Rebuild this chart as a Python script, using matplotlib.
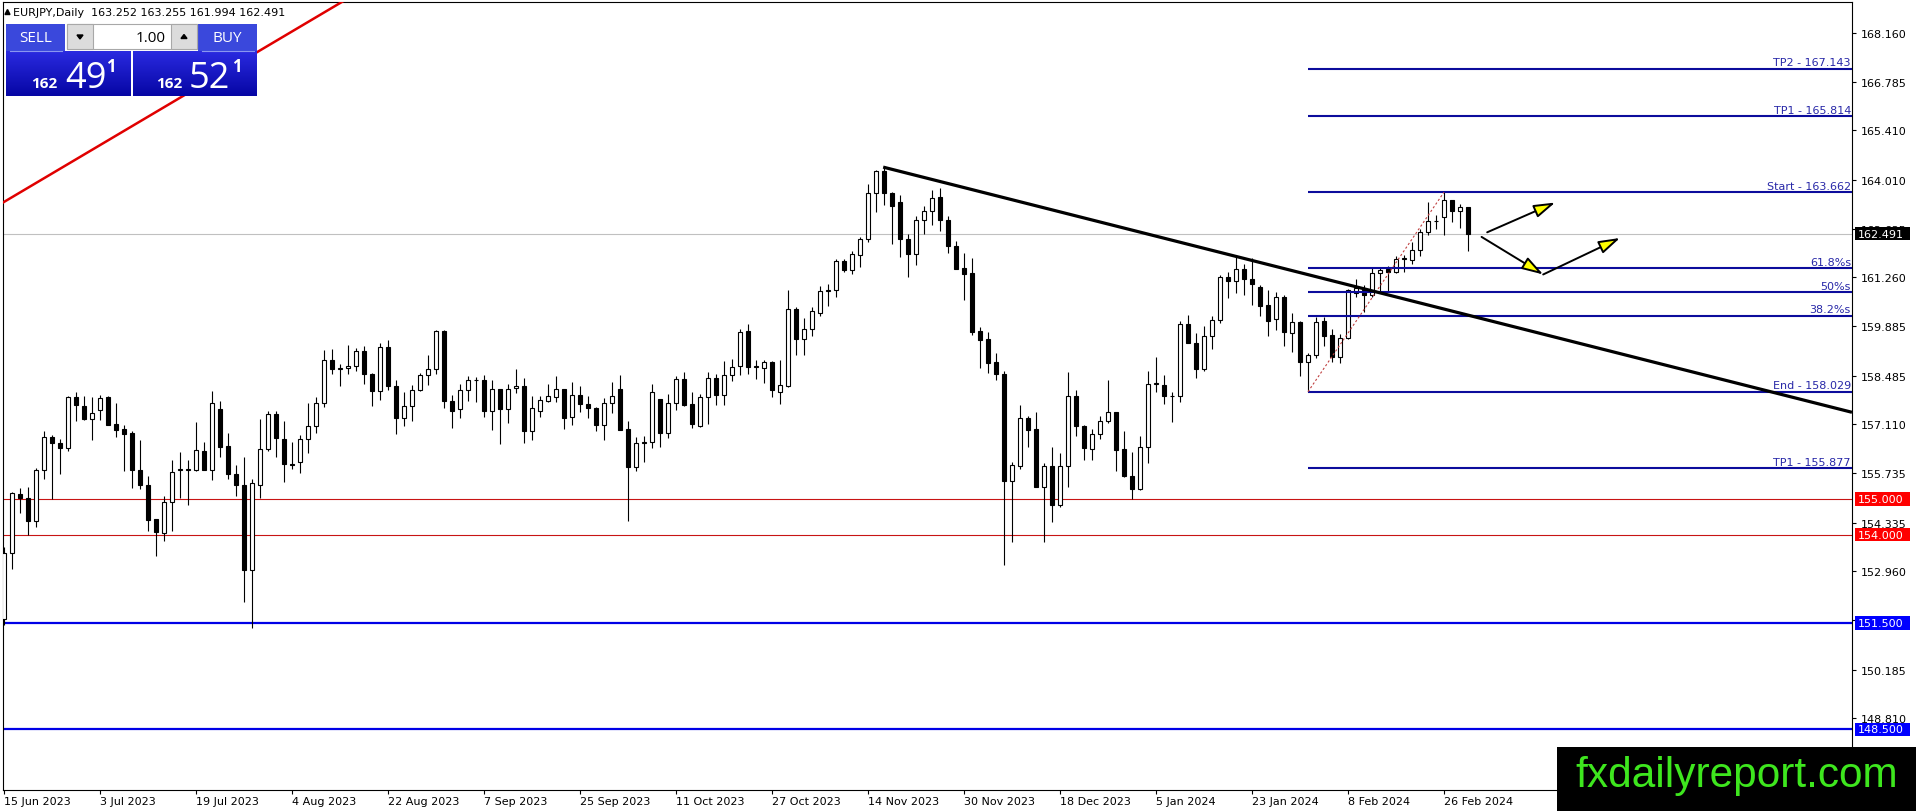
import matplotlib
matplotlib.use('Agg')
import matplotlib.pyplot as plt
import numpy as np
import matplotlib.transforms as mtrans
from matplotlib.patches import Rectangle, FancyArrowPatch, Polygon, ArrowStyle
from matplotlib.colors import LinearSegmentedColormap

# ---------------- data (EURJPY daily candles, bar index 0 = 15 Jun 2023) ----------------
opens = [151.63, 153.49, 155.14, 155.03, 154.37, 155.83, 156.74, 156.57, 156.45, 157.89,
         157.64, 157.26, 157.51, 157.87, 157.12, 156.97, 156.87, 155.83, 155.40, 154.44,
         154.05, 154.91, 155.82, 155.83, 155.82, 156.37, 155.82, 157.55, 156.49, 155.72,
         155.40, 152.99, 155.39, 156.41, 157.40, 156.70, 155.98, 156.05, 156.70, 157.05,
         157.70, 158.93, 158.68, 158.70, 158.76, 159.19, 158.53, 158.04, 159.30, 158.19,
         157.30, 157.62, 158.08, 158.50, 158.68, 159.74, 157.76, 157.53, 158.08, 158.36,
         158.36, 157.50, 158.10, 157.53, 158.14, 158.20, 156.91, 157.50, 157.76, 157.89,
         158.11, 157.31, 157.94, 157.69, 157.58, 157.10, 157.70, 158.11, 156.97, 155.90,
         156.59, 156.61, 157.83, 156.87, 157.70, 158.38, 157.69, 157.06, 157.87, 158.43,
         157.93, 158.50, 158.77, 159.75, 158.73, 158.71, 158.86, 158.03, 158.20, 160.37,
         159.51, 159.80, 160.26, 160.86, 160.91, 161.71, 161.48, 161.90, 162.34, 163.65,
         164.26, 163.63, 163.39, 162.34, 161.93, 162.88, 163.13, 163.54, 162.89, 162.15,
         161.51, 161.38, 159.75, 159.51, 158.86, 158.54, 155.51, 155.94, 157.29, 156.97,
         155.34, 155.93, 154.83, 155.93, 157.91, 157.06, 156.41, 156.83, 157.21, 157.46,
         156.41, 155.66, 155.28, 156.46, 158.25, 158.23, 157.91, 157.91, 159.94, 159.40,
         158.68, 159.61, 160.06, 161.26, 161.16, 161.49, 161.21, 161.00, 160.48, 160.07,
         160.70, 159.68, 159.99, 158.86, 159.08, 160.02, 159.63, 159.00, 159.54, 160.83,
         160.89, 160.77, 161.38, 161.50, 161.42, 161.78, 161.76, 162.02, 162.54, 162.85,
         162.96, 163.45, 163.12, 163.252]
highs = [153.66, 155.20, 155.30, 155.35, 155.88, 156.91, 156.80, 156.69, 157.91, 158.01,
         157.92, 157.87, 157.95, 157.90, 157.72, 157.09, 156.91, 156.66, 155.64, 154.44,
         155.10, 156.09, 156.32, 156.11, 157.17, 156.61, 158.04, 157.78, 156.87, 155.96,
         156.20, 155.57, 157.25, 157.48, 157.48, 157.20, 156.60, 156.82, 157.71, 157.89,
         159.20, 159.23, 158.82, 159.34, 159.27, 159.31, 158.55, 159.40, 159.49, 158.36,
         158.02, 158.23, 158.55, 159.06, 159.77, 159.77, 157.93, 158.25, 158.48, 158.46,
         158.50, 158.36, 158.10, 158.25, 158.66, 158.42, 157.90, 157.92, 158.26, 158.47,
         158.11, 158.30, 158.18, 157.92, 157.61, 157.86, 158.31, 158.49, 157.20, 156.74,
         156.77, 158.26, 157.83, 157.98, 158.47, 158.60, 158.03, 157.97, 158.60, 158.54,
         158.89, 158.95, 159.80, 159.94, 158.94, 158.92, 158.89, 158.92, 160.90, 160.42,
         160.11, 160.42, 161.01, 161.06, 161.77, 161.78, 161.99, 162.41, 163.89, 164.30,
         164.39, 163.66, 163.59, 162.47, 163.00, 163.26, 163.72, 163.78, 162.99, 162.28,
         161.96, 161.80, 159.85, 159.72, 159.11, 158.61, 156.06, 157.66, 157.34, 157.47,
         156.03, 156.47, 156.30, 158.58, 158.09, 157.09, 156.97, 157.34, 158.37, 157.46,
         156.92, 156.32, 156.77, 158.61, 159.01, 158.49, 158.01, 160.04, 160.21, 159.69,
         159.88, 160.18, 161.32, 161.40, 161.90, 161.63, 161.80, 161.05, 160.89, 160.84,
         160.75, 160.26, 160.02, 159.12, 160.13, 160.13, 159.80, 159.66, 160.94, 161.20,
         161.03, 161.55, 161.55, 161.58, 161.86, 161.88, 162.26, 162.63, 163.39, 163.01,
         163.66, 163.45, 163.34, 163.255]
lows = [151.45, 153.02, 154.61, 154.00, 154.21, 155.56, 155.00, 155.70, 156.35, 157.20,
        157.23, 156.68, 157.23, 157.10, 156.75, 155.78, 155.32, 155.28, 154.10, 153.39,
        153.83, 154.10, 155.04, 154.83, 155.80, 155.82, 155.53, 156.19, 155.56, 155.10,
        152.10, 151.35, 155.03, 156.35, 156.20, 155.47, 155.84, 155.75, 156.30, 156.87,
        157.60, 158.54, 158.18, 158.52, 158.61, 158.24, 157.64, 157.79, 158.07, 156.85,
        157.07, 157.21, 158.04, 158.21, 158.52, 157.58, 157.01, 157.30, 157.77, 157.74,
        157.32, 156.95, 156.56, 157.15, 157.99, 156.59, 156.68, 157.33, 157.73, 157.73,
        156.99, 157.10, 157.45, 157.30, 156.92, 156.68, 157.42, 156.96, 154.39, 155.78,
        156.05, 156.45, 156.48, 156.72, 157.51, 157.63, 157.02, 157.03, 157.13, 157.67,
        157.65, 158.34, 158.51, 158.54, 158.39, 158.28, 157.88, 157.69, 158.16, 159.08,
        159.08, 159.59, 160.18, 160.45, 160.70, 161.40, 161.35, 161.56, 162.26, 163.11,
        163.30, 162.20, 161.83, 161.28, 161.61, 162.47, 162.75, 162.58, 161.94, 161.50,
        160.61, 159.64, 158.70, 158.56, 158.37, 153.15, 153.80, 155.85, 156.47, 155.34,
        153.80, 154.34, 154.77, 155.34, 156.77, 156.10, 156.10, 156.71, 157.15, 155.80,
        155.61, 155.01, 155.26, 156.03, 158.02, 157.68, 157.18, 157.73, 159.40, 158.42,
        158.61, 159.25, 159.97, 160.69, 160.83, 160.75, 160.47, 160.18, 159.61, 159.76,
        159.33, 159.14, 158.48, 158.03, 158.97, 159.31, 158.86, 158.83, 159.52, 160.70,
        160.27, 160.70, 160.84, 160.84, 161.39, 161.41, 161.64, 161.86, 162.46, 162.63,
        162.46, 162.82, 162.66, 161.994]
closes = [153.49, 155.16, 155.03, 154.37, 155.83, 156.74, 156.57, 156.45, 157.89, 157.66,
          157.26, 157.43, 157.86, 157.10, 156.96, 156.85, 155.82, 155.39, 154.42, 154.08,
          154.92, 155.77, 155.84, 155.84, 156.40, 155.82, 157.72, 156.48, 155.70, 155.39,
          152.99, 155.46, 156.41, 157.40, 156.72, 155.98, 155.97, 156.70, 157.05, 157.70,
          158.93, 158.67, 158.70, 158.76, 159.19, 158.52, 158.04, 159.30, 158.19, 157.30,
          157.62, 158.08, 158.50, 158.68, 159.74, 157.76, 157.50, 158.08, 158.36, 158.37,
          157.50, 158.12, 157.53, 158.12, 158.20, 156.93, 157.57, 157.80, 157.90, 158.11,
          157.30, 157.94, 157.69, 157.56, 157.10, 157.70, 157.91, 156.96, 155.90, 156.59,
          156.61, 158.03, 156.87, 157.70, 158.38, 157.67, 157.13, 157.87, 158.43, 157.93,
          158.50, 158.72, 159.72, 158.73, 158.75, 158.86, 158.09, 158.23, 160.37, 159.51,
          159.80, 160.31, 160.86, 160.91, 161.71, 161.48, 161.91, 162.34, 163.63, 164.26,
          163.63, 163.28, 162.34, 161.91, 162.88, 163.13, 163.51, 162.88, 162.13, 161.50,
          161.36, 159.73, 159.50, 158.84, 158.53, 155.51, 155.96, 157.29, 156.96, 155.34,
          155.93, 154.82, 155.93, 157.90, 157.06, 156.43, 156.83, 157.21, 157.46, 156.39,
          155.65, 155.28, 156.46, 158.26, 158.27, 157.91, 157.92, 159.94, 159.40, 158.66,
          159.61, 160.06, 161.26, 161.15, 161.49, 161.21, 161.06, 160.46, 160.04, 160.70,
          159.71, 159.99, 158.86, 159.08, 159.99, 159.61, 159.00, 159.54, 160.89, 160.95,
          160.77, 161.38, 161.47, 161.42, 161.78, 161.79, 162.02, 162.54, 162.85, 162.86,
          163.45, 163.12, 163.25, 162.491]

date_labels = ['15 Jun 2023', '3 Jul 2023', '19 Jul 2023', '4 Aug 2023', '22 Aug 2023',
               '7 Sep 2023', '25 Sep 2023', '11 Oct 2023', '27 Oct 2023', '14 Nov 2023',
               '30 Nov 2023', '18 Dec 2023', '5 Jan 2024', '23 Jan 2024', '8 Feb 2024',
               '26 Feb 2024']
date_label_bars = [0, 12, 24, 36, 48, 60, 72, 84, 96, 108, 120, 132, 144, 156, 168, 180]

price_ticks = [168.160, 166.785, 165.410, 164.010, 162.635, 161.260, 159.885, 158.485,
               157.110, 155.735, 154.335, 152.960, 151.585, 150.185, 148.810]

current_price = 162.491
red_levels = [155.000, 154.000]
blue_levels = [151.500, 148.500]

fib_names = ['TP2 - 167.143', 'TP1 - 165.814', 'Start - 163.662', '61.8%s', '50%s',
             '38.2%s', 'End - 158.029', 'TP1 - 155.877']
fib_values = [167.143, 165.814, 163.662, 161.510, 160.846, 160.181, 158.029, 155.877]
fib_start_bar = 163
fib_anchor_x = [163, 180]
fib_anchor_y = [158.029, 163.662]

trend_x = [109.9, 231.0]
trend_y = [164.37, 157.45]
red_trend_x = [-0.2, 43.5]
red_trend_y = [163.36, 169.20]

arrows = [((185.4, 162.53), (193.9, 163.37)),
          ((184.7, 162.40), (192.4, 161.34)),
          ((192.4, 161.34), (202.0, 162.37))]

header = 'EURJPY,Daily  163.252 163.255 161.994 162.491'

# ---------------- figure ----------------
W, H = 1916, 812
fig = plt.figure(figsize=(W / 100, H / 100), dpi=100)
fig.patch.set_facecolor('white')
ax = fig.add_axes([2.7 / W, (H - 791) / H, (1852.3 - 2.7) / W, (791 - 3) / H])
ax.set_xlim(-0.16, 231.04)
ax.set_ylim(146.79, 169.03)
for s in ax.spines.values():
    s.set_linewidth(0.8)
    s.set_color('black')

o = np.array(opens); h = np.array(highs); l = np.array(lows); c = np.array(closes)
x = np.arange(len(o))
up = c >= o
bot = np.minimum(o, c)
ht = np.maximum(np.abs(c - o), 0.012)

# horizontal levels
ax.axhline(current_price, color='#c0c0c0', lw=0.8, zorder=1)
for r in red_levels:
    ax.axhline(r, color='#c81414', lw=0.8, zorder=2)
for b in blue_levels:
    ax.axhline(b, color='#0000e6', lw=1.6, zorder=2)

# candles
ax.vlines(x, l, h, color='black', linewidth=0.8, zorder=3)
ax.bar(x[up], ht[up], bottom=bot[up], width=0.5, facecolor='white', edgecolor='black',
       linewidth=0.8, zorder=4)
ax.bar(x[~up], ht[~up], bottom=bot[~up], width=0.5, facecolor='black', edgecolor='black',
       linewidth=0.8, zorder=4)

# fibonacci / targets
ax.hlines(fib_values, fib_start_bar, 231.04, color='#0c0c9c', lw=1.5, zorder=5)
for name, v in zip(fib_names, fib_values):
    ax.annotate(name, xy=(1, v), xycoords=('axes fraction', 'data'), xytext=(-1, 1),
                textcoords='offset points', ha='right', va='bottom', fontsize=8,
                color='#2828a8', zorder=6)
ax.plot(fib_anchor_x, fib_anchor_y, color='#c04040', lw=0.8, ls=(0, (2, 2)), zorder=5)

# trendlines
ax.plot(trend_x, trend_y, color='black', lw=2.3, zorder=6, solid_capstyle='butt')
ax.plot(red_trend_x, red_trend_y, color='#e00000', lw=1.8, zorder=6)

# arrows
for (a, b) in arrows:
    arr = FancyArrowPatch(a, b, arrowstyle=ArrowStyle('-|>', head_length=1.3, head_width=0.4),
                          mutation_scale=10, facecolor='#ffff00', edgecolor='black',
                          lw=1.4, shrinkA=0, shrinkB=0, zorder=7)
    ax.add_patch(arr)

# axes ticks
ax.yaxis.tick_right()
ax.set_yticks(price_ticks)
ax.set_yticklabels([f'{v:.3f}' for v in price_ticks])
ax.tick_params(axis='y', direction='out', length=3, width=0.8, pad=3, labelsize=8)
ax.set_xticks(date_label_bars)
ax.set_xticklabels(date_labels, ha='left')
ax.tick_params(axis='x', direction='out', length=3, width=0.8, pad=1, labelsize=8)

# price label boxes on the axis
trans = mtrans.blended_transform_factory(fig.transFigure, ax.transData)
box_h = 13.5 / 35.43
boxes = [(current_price, 'black')] + [(r, '#ff0000') for r in red_levels] + \
        [(b, '#0000ff') for b in blue_levels]
for v, col in boxes:
    ax.add_patch(Rectangle((1855 / W, v - box_h / 2), 55 / W, box_h, transform=trans,
                           facecolor=col, edgecolor='none', clip_on=False, zorder=10))
    ax.text(1858 / W, v, f'{v:.3f}', transform=trans, color='white', fontsize=8,
            va='center', ha='left', clip_on=False, zorder=11)

# ---------------- overlay (pixel coordinates) ----------------
ov = fig.add_axes([0, 0, 1, 1], zorder=20)
ov.set_xlim(0, W)
ov.set_ylim(H, 0)
ov.axis('off')
ov.patch.set_alpha(0)

ov.add_patch(Polygon([[5, 15.5], [10, 15.5], [7.5, 10.5]], closed=True, color='black'))
ov.text(13, 13, header, fontsize=8, va='center', ha='left', color='black')

btn_col = '#3a48dc'
ui_font = 'Open Sans'
for bx, label in [(6, 'SELL'), (198, 'BUY')]:
    ov.add_patch(Rectangle((bx, 25), 59, 27, facecolor=btn_col, edgecolor='none'))
    ov.plot([bx + 4, bx + 56], [51.5, 51.5], color='#8a96f0', lw=0.8)
    ov.text(bx + 29.5, 39, label, color='white', fontsize=11, ha='center', va='center',
            family=ui_font)

ov.add_patch(Rectangle((67, 25), 130, 25, facecolor='white', edgecolor='#a8a8a8', lw=0.8))
for sx in (67, 171):
    ov.add_patch(Rectangle((sx, 25), 26, 25, facecolor='#dcdcdc', edgecolor='#a8a8a8', lw=0.8))
ov.add_patch(Polygon([[77, 36], [83, 36], [80, 40]], closed=True, color='black'))
ov.add_patch(Polygon([[181, 39.5], [187, 39.5], [184, 35.5]], closed=True, color='black'))
ov.text(166, 38, '1.00', fontsize=11, ha='right', va='center', family=ui_font, color='black')

cmap = LinearSegmentedColormap.from_list('mt', ['#2a2ae0', '#0606a4'])
grad = np.linspace(0, 1, 64).reshape(-1, 1)
for (x0, x1, big, bigx, smallx, supx) in [(6, 131, '49', 65, 31, 106), (133, 257, '52', 189, 156, 232)]:
    ov.imshow(grad, extent=(x0, x1, 97, 52), cmap=cmap, aspect='auto', zorder=1)
    ov.text(smallx, 88, '162', color='white', fontsize=11, fontweight='bold', ha='left',
            va='baseline', family=ui_font, zorder=2)
    ov.text(bigx, 87.5, big, color='white', fontsize=26, ha='left', va='baseline',
            family=ui_font, zorder=2)
    ov.text(supx, 72, '1', color='white', fontsize=12, fontweight='bold', ha='left',
            va='baseline', family=ui_font, zorder=2)
ov.set_xlim(0, W)
ov.set_ylim(H, 0)

# watermark
ov.add_patch(Rectangle((1557, 748), W - 1557, H - 748, facecolor='black', edgecolor='none',
                       zorder=3))
ov.text(1575, 787, 'fxdailyreport.com', color='#3ee61e', fontsize=30.5,
        family='Liberation Sans', ha='left', va='baseline', zorder=4)

fig.savefig('out.png', dpi=100, facecolor='white')
